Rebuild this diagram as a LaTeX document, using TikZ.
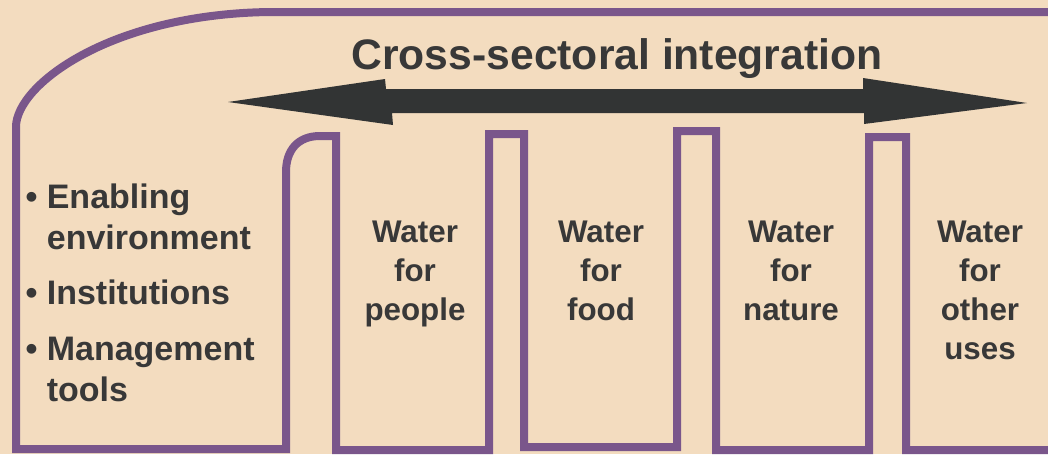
\documentclass[tikz,border=0pt]{standalone}
\usepackage{fontspec}
\setmainfont{Liberation Sans}
\definecolor{bgbeige}{RGB}{243,220,191}
\definecolor{linepurple}{RGB}{122,86,139}
\definecolor{textgrey}{RGB}{56,56,56}
\definecolor{arrowgrey}{RGB}{50,52,52}
\newcommand{\titlefont}{\fontsize{32}{38}\selectfont\bfseries}
\newcommand{\listfont}{\fontsize{25.5}{30.75}\selectfont\bfseries}
\newcommand{\waterfont}{\fontsize{23.5}{29.25}\selectfont\bfseries}

\tikzset{every picture/.style={line width=0.75pt}}
\tikzset{outline/.style={draw=linepurple,line width=6pt},
  label text/.style={inner sep=0pt,text=textgrey}}

\begin{document}
\begin{tikzpicture}[x=0.75pt,y=0.75pt,yscale=-1,xscale=1]
	%set diagram to the size of the reference
	\useasboundingbox (0,0) rectangle (1048,454);
	\fill [bgbeige] (0,0) rectangle (1048,454);
	%Shape: Outline with four tabs
	\draw [outline] (1056,12) -- (270,12) .. controls (110,14) and (16,85) .. (16,127) -- (16,449) -- (286,449) -- (286,172) .. controls (286,150) and (298,136) .. (320,136) -- (336,136) -- (336,450) -- (489,450) -- (489,134) -- (524,134) -- (524,447) -- (677,447) -- (677,131) -- (716,131) -- (716,450) -- (869,450) -- (869,137) -- (906,137) -- (906,450) -- (1056,450) ;
	%Shape: Double arrow
	\fill [arrowgrey] (228,102) -- (385,79) -- (386,89) -- (863,89) -- (863,78) -- (1027,103) -- (864,124) -- (864,113) -- (392,113) -- (393,125) -- cycle ;
	% Text Node
	\draw (617,38) node (title) [anchor=north][label text] [font=\titlefont] {Cross-sectoral integration};
	% Text Node
	\draw (25,183) node (support) [anchor=north west][label text] [align=left,font=\listfont] {• Enabling\\ \phantom{• }environment\\[11pt] • Institutions\\[11pt] • Management\\ \phantom{• }tools};
	% Text Node
	\draw (415,220) node (people) [anchor=north][label text] [align=center,font=\waterfont] {Water\\ for\\ people};
	% Text Node
	\draw (601,220) node (food) [anchor=north][label text] [align=center,font=\waterfont] {Water\\ for\\ food};
	% Text Node
	\draw (791,220) node (nature) [anchor=north][label text] [align=center,font=\waterfont] {Water\\ for\\ nature};
	% Text Node
	\draw (980,220) node (otheruses) [anchor=north][label text] [align=center,font=\waterfont] {Water\\ for\\ other\\ uses};
\end{tikzpicture}
\end{document}
